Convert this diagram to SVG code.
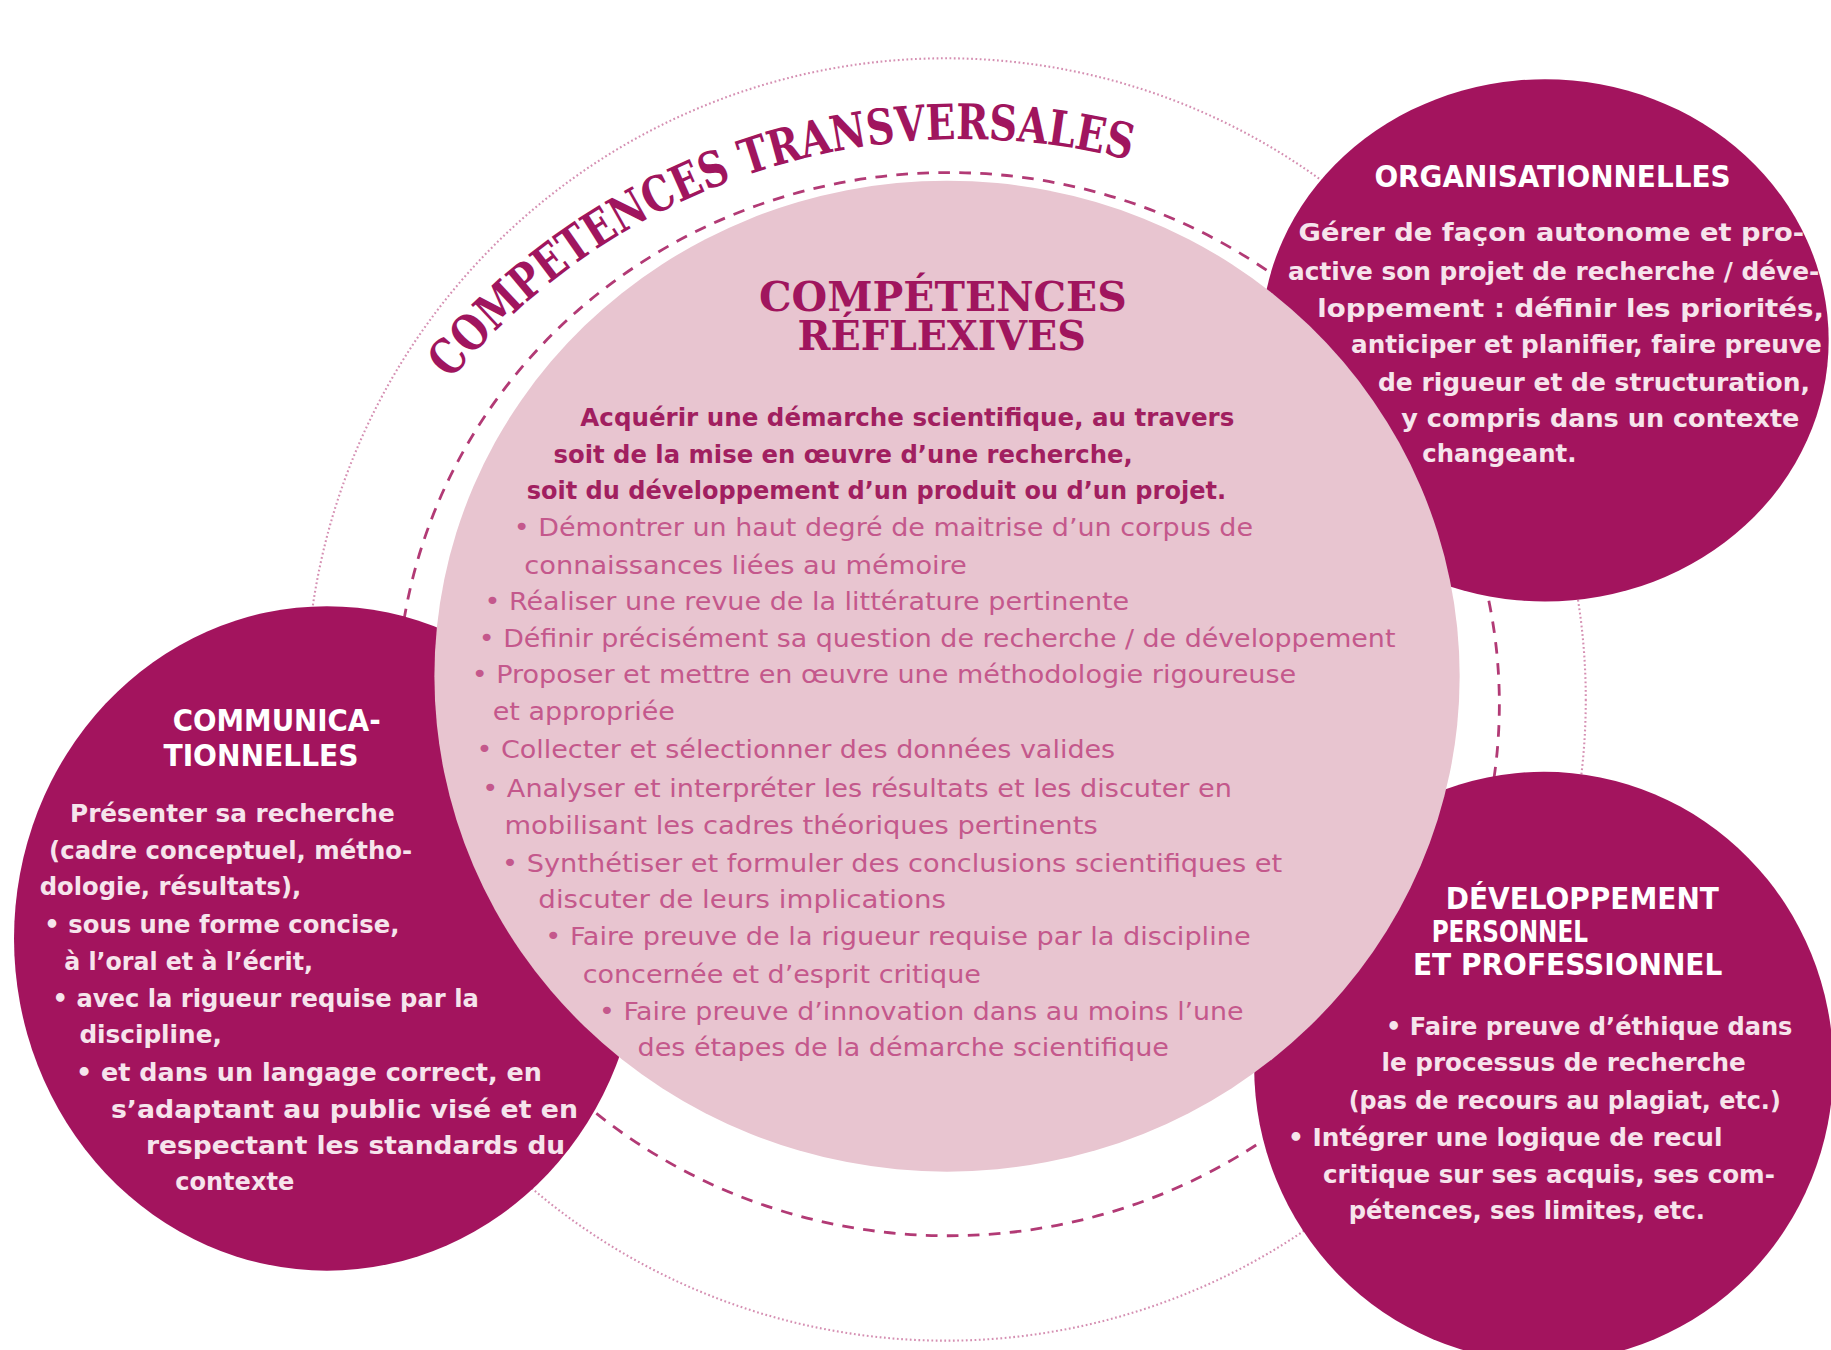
<svg xmlns="http://www.w3.org/2000/svg" width="1831" height="1350" viewBox="0 0 1831 1350">
<style>
.ring-dot{fill:none;stroke:#d58fb2;stroke-width:1.8;stroke-dasharray:1.5 2.2}
.ring-dash{fill:none;stroke:#b23a75;stroke-width:2.4;stroke-dasharray:10 8}
.dark{fill:#a3145e}
.core{fill:#e8c5d0}
.arc{font-family:'DejaVu Serif Condensed','DejaVu Serif',serif;font-weight:bold;font-size:42px;fill:#a0155e}
.t1{font-family:'DejaVu Serif Condensed','DejaVu Serif',serif;font-weight:bold;font-size:35px;fill:#a0155e}
.cb{font-family:'DejaVu Sans Condensed','DejaVu Sans',sans-serif;font-weight:bold;font-size:22px;fill:#a11f60}
.cl{font-family:'DejaVu Sans Condensed','DejaVu Sans',sans-serif;font-size:22px;fill:#c4588c}
.wh{font-family:'DejaVu Sans Condensed','DejaVu Sans',sans-serif;font-weight:bold;font-size:21px;fill:#f6e4ec}
.wt{font-family:'DejaVu Sans Condensed','DejaVu Sans',sans-serif;font-weight:bold;font-size:26px;fill:#ffffff}
</style>
<defs>
<path id="arcPath" d="M386,326 A570,570 0 0 1 966,137"/>
</defs>
<rect width="1831" height="1350" fill="#ffffff"/>
<g transform="scale(1.16773 1.16580)">
<g id="rings">
<ellipse class="ring-dot" cx="810" cy="600" rx="548" ry="550"/>
<ellipse class="ring-dash" cx="812" cy="604" rx="472" ry="456"/>
<text class="arc"><textPath href="#arcPath" textLength="645" lengthAdjust="spacingAndGlyphs">COMPETENCES TRANSVERSALES</textPath></text>
</g>
<g id="node-organisationnelles">
<ellipse class="dark" cx="1323" cy="292" rx="243" ry="224"/>
</g>
<g id="node-communicationnelles">
<ellipse class="dark" cx="280" cy="805" rx="268" ry="285"/>
</g>
<g id="node-developpement">
<ellipse class="dark" cx="1322" cy="915" rx="248" ry="253"/>
</g>
<g id="node-reflexives">
<ellipse class="core" cx="811" cy="580" rx="439" ry="425"/>
<text class="t1" x="650" y="267" textLength="315" lengthAdjust="spacingAndGlyphs">COMPÉTENCES</text>
<text class="t1" x="683" y="300" textLength="247" lengthAdjust="spacingAndGlyphs">RÉFLEXIVES</text>
<text class="cb" x="497" y="365" textLength="560" lengthAdjust="spacingAndGlyphs">Acquérir une démarche scientifique, au travers</text>
<text class="cb" x="474" y="397" textLength="496" lengthAdjust="spacingAndGlyphs">soit de la mise en œuvre d’une recherche,</text>
<text class="cb" x="451" y="428" textLength="599" lengthAdjust="spacingAndGlyphs">soit du développement d’un produit ou d’un projet.</text>
<text class="cl" x="440" y="460" textLength="633" lengthAdjust="spacingAndGlyphs">• Démontrer un haut degré de maitrise d’un corpus de</text>
<text class="cl" x="449" y="492" textLength="379" lengthAdjust="spacingAndGlyphs">connaissances liées au mémoire</text>
<text class="cl" x="415" y="523" textLength="552" lengthAdjust="spacingAndGlyphs">• Réaliser une revue de la littérature pertinente</text>
<text class="cl" x="410" y="555" textLength="785" lengthAdjust="spacingAndGlyphs">• Définir précisément sa question de recherche / de développement</text>
<text class="cl" x="404" y="586" textLength="706" lengthAdjust="spacingAndGlyphs">• Proposer et mettre en œuvre une méthodologie rigoureuse</text>
<text class="cl" x="422" y="618" textLength="156" lengthAdjust="spacingAndGlyphs">et appropriée</text>
<text class="cl" x="408" y="650" textLength="547" lengthAdjust="spacingAndGlyphs">• Collecter et sélectionner des données valides</text>
<text class="cl" x="413" y="684" textLength="642" lengthAdjust="spacingAndGlyphs">• Analyser et interpréter les résultats et les discuter en</text>
<text class="cl" x="432" y="715" textLength="508" lengthAdjust="spacingAndGlyphs">mobilisant les cadres théoriques pertinents</text>
<text class="cl" x="430" y="748" textLength="668" lengthAdjust="spacingAndGlyphs">• Synthétiser et formuler des conclusions scientifiques et</text>
<text class="cl" x="461" y="779" textLength="349" lengthAdjust="spacingAndGlyphs">discuter de leurs implications</text>
<text class="cl" x="467" y="811" textLength="604" lengthAdjust="spacingAndGlyphs">• Faire preuve de la rigueur requise par la discipline</text>
<text class="cl" x="499" y="843" textLength="341" lengthAdjust="spacingAndGlyphs">concernée et d’esprit critique</text>
<text class="cl" x="513" y="875" textLength="552" lengthAdjust="spacingAndGlyphs">• Faire preuve d’innovation dans au moins l’une</text>
<text class="cl" x="546" y="906" textLength="455" lengthAdjust="spacingAndGlyphs">des étapes de la démarche scientifique</text>
</g>
<g id="labels-organisationnelles">
<text class="wt" x="1177" y="160" textLength="305" lengthAdjust="spacingAndGlyphs">ORGANISATIONNELLES</text>
<text class="wh" x="1112" y="207" textLength="433" lengthAdjust="spacingAndGlyphs">Gérer de façon autonome et pro-</text>
<text class="wh" x="1103" y="240" textLength="455" lengthAdjust="spacingAndGlyphs">active son projet de recherche / déve-</text>
<text class="wh" x="1128" y="272" textLength="434" lengthAdjust="spacingAndGlyphs">loppement : définir les priorités,</text>
<text class="wh" x="1157" y="303" textLength="403" lengthAdjust="spacingAndGlyphs">anticiper et planifier, faire preuve</text>
<text class="wh" x="1180" y="335" textLength="370" lengthAdjust="spacingAndGlyphs">de rigueur et de structuration,</text>
<text class="wh" x="1200" y="366" textLength="341" lengthAdjust="spacingAndGlyphs">y compris dans un contexte</text>
<text class="wh" x="1218" y="396" textLength="132" lengthAdjust="spacingAndGlyphs">changeant.</text>
</g>
<g id="labels-communicationnelles">
<text class="wt" x="148" y="627" textLength="178" lengthAdjust="spacingAndGlyphs">COMMUNICA-</text>
<text class="wt" x="140" y="657" textLength="167" lengthAdjust="spacingAndGlyphs">TIONNELLES</text>
<text class="wh" x="60" y="705" textLength="278" lengthAdjust="spacingAndGlyphs">Présenter sa recherche</text>
<text class="wh" x="42" y="737" textLength="311" lengthAdjust="spacingAndGlyphs">(cadre  conceptuel, métho-</text>
<text class="wh" x="34" y="768" textLength="224" lengthAdjust="spacingAndGlyphs">dologie, résultats),</text>
<text class="wh" x="38" y="800" textLength="304" lengthAdjust="spacingAndGlyphs">• sous une forme concise,</text>
<text class="wh" x="55" y="832" textLength="213" lengthAdjust="spacingAndGlyphs">à l’oral et à l’écrit,</text>
<text class="wh" x="45" y="864" textLength="365" lengthAdjust="spacingAndGlyphs">• avec la rigueur requise par la</text>
<text class="wh" x="68" y="895" textLength="122" lengthAdjust="spacingAndGlyphs">discipline,</text>
<text class="wh" x="65" y="927" textLength="399" lengthAdjust="spacingAndGlyphs">• et dans un langage correct, en</text>
<text class="wh" x="95" y="959" textLength="400" lengthAdjust="spacingAndGlyphs">s’adaptant au public visé et en</text>
<text class="wh" x="125" y="990" textLength="359" lengthAdjust="spacingAndGlyphs">respectant les standards du</text>
<text class="wh" x="150" y="1021" textLength="102" lengthAdjust="spacingAndGlyphs">contexte</text>
</g>
<g id="labels-developpement">
<text class="wt" x="1238" y="780" textLength="234" lengthAdjust="spacingAndGlyphs">DÉVELOPPEMENT</text>
<text class="wt" x="1226" y="808" textLength="134" lengthAdjust="spacingAndGlyphs">PERSONNEL</text>
<text class="wt" x="1210" y="836" textLength="265" lengthAdjust="spacingAndGlyphs">ET PROFESSIONNEL</text>
<text class="wh" x="1187" y="888" textLength="348" lengthAdjust="spacingAndGlyphs">• Faire preuve d’éthique dans</text>
<text class="wh" x="1183" y="919" textLength="312" lengthAdjust="spacingAndGlyphs">le processus de recherche</text>
<text class="wh" x="1155" y="951" textLength="370" lengthAdjust="spacingAndGlyphs">(pas de recours au plagiat, etc.)</text>
<text class="wh" x="1103" y="983" textLength="372" lengthAdjust="spacingAndGlyphs">•  Intégrer une logique de recul</text>
<text class="wh" x="1133" y="1015" textLength="387" lengthAdjust="spacingAndGlyphs">critique sur ses acquis, ses com-</text>
<text class="wh" x="1155" y="1046" textLength="305" lengthAdjust="spacingAndGlyphs">pétences, ses limites, etc.</text>
</g>
</g>
</svg>
